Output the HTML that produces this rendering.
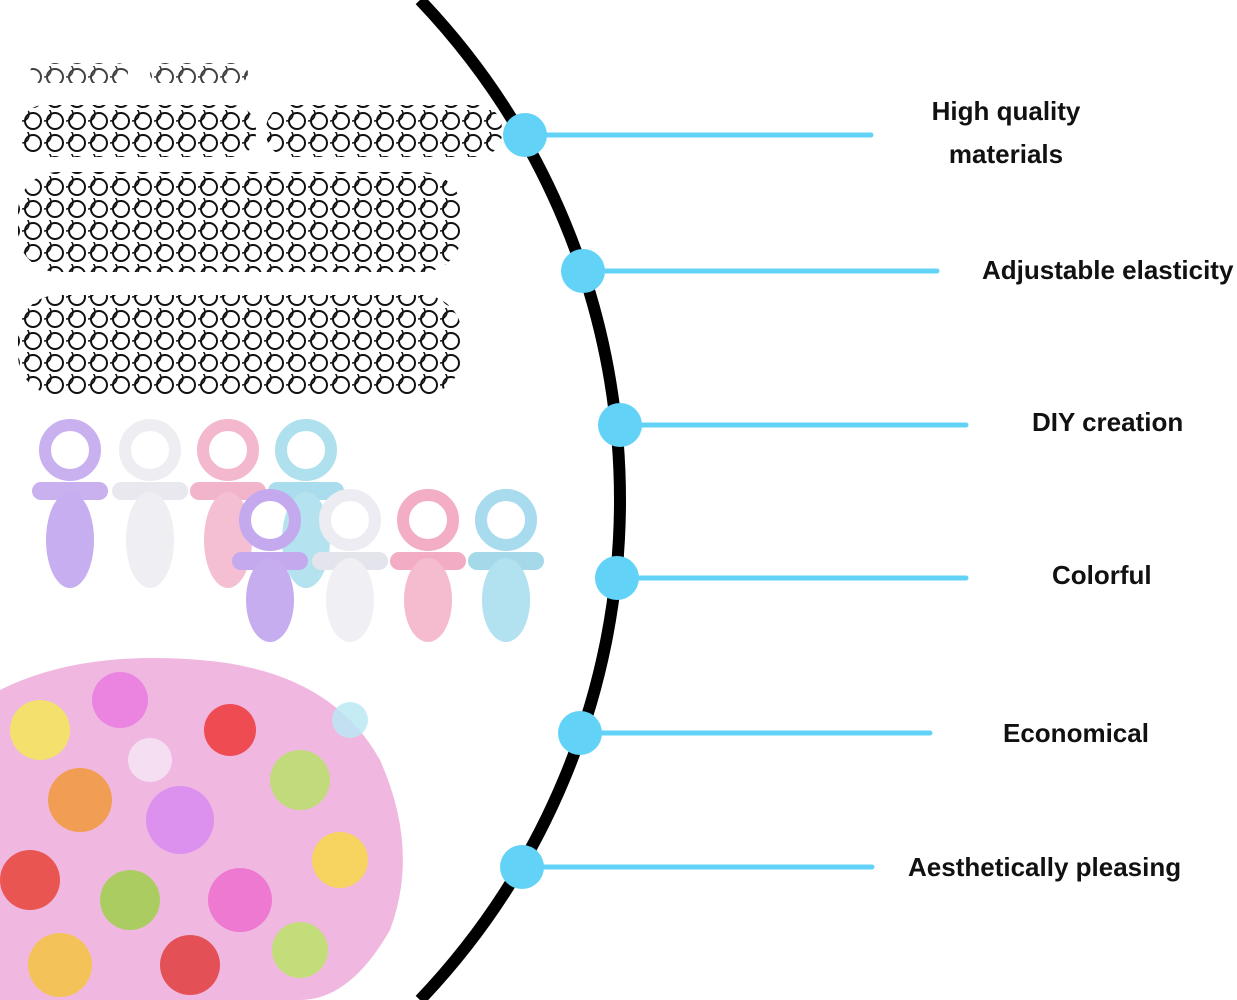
<!DOCTYPE html>
<html><head><meta charset="utf-8"><style>
html,body{margin:0;padding:0;background:#fff;width:1237px;height:1000px;overflow:hidden;}
body{position:relative;font-family:"Liberation Sans",sans-serif;}
svg{display:block;overflow:hidden;}
.t{position:absolute;font-weight:bold;font-size:26px;color:#111;text-align:center;line-height:43px;white-space:nowrap;}
</style></head><body>
<svg width="1237" height="1000" style="position:absolute;left:0;top:0">
<defs>
<pattern id="lace" width="22" height="22" patternUnits="userSpaceOnUse">
<circle cx="11" cy="11" r="8" fill="none" stroke="#111" stroke-width="2"/>
<circle cx="0" cy="4" r="7" fill="none" stroke="#111" stroke-width="1.5"/>
</pattern>
</defs>
<rect x="30" y="63" width="98" height="20" rx="10" fill="url(#lace)" opacity=".8"/>
<rect x="150" y="63" width="98" height="20" rx="10" fill="url(#lace)" opacity=".8"/>
<rect x="20" y="105" width="236" height="52" rx="24" fill="url(#lace)"/>
<rect x="266" y="105" width="236" height="52" rx="24" fill="url(#lace)"/>
<rect x="18" y="172" width="444" height="100" rx="40" fill="url(#lace)"/>
<rect x="18" y="295" width="444" height="100" rx="40" fill="url(#lace)"/>
<g>
<g transform="translate(70,420)"><circle cx="0" cy="30" r="25" fill="none" stroke="#c9b0ef" stroke-width="12"/><rect x="-38" y="62" width="76" height="18" rx="9" fill="#c9b0ef"/><ellipse cx="0" cy="120" rx="24" ry="48" fill="#c7aef0"/></g>
<g transform="translate(150,420)"><circle cx="0" cy="30" r="25" fill="none" stroke="#eeeef2" stroke-width="12"/><rect x="-38" y="62" width="76" height="18" rx="9" fill="#e8e8ee"/><ellipse cx="0" cy="120" rx="24" ry="48" fill="#eeeef3"/></g>
<g transform="translate(228,420)"><circle cx="0" cy="30" r="25" fill="none" stroke="#f3b8cd" stroke-width="12"/><rect x="-38" y="62" width="76" height="18" rx="9" fill="#f2b4ca"/><ellipse cx="0" cy="120" rx="24" ry="48" fill="#f4bfd2"/></g>
<g transform="translate(306,420)"><circle cx="0" cy="30" r="25" fill="none" stroke="#aee0ee" stroke-width="12"/><rect x="-38" y="62" width="76" height="18" rx="9" fill="#a9dcec"/><ellipse cx="0" cy="120" rx="24" ry="48" fill="#b5e2ef"/></g>
<g transform="translate(270,490)"><circle cx="0" cy="30" r="25" fill="none" stroke="#c4a9ee" stroke-width="12"/><rect x="-38" y="62" width="76" height="18" rx="9" fill="#c4a9ee"/><ellipse cx="0" cy="110" rx="24" ry="42" fill="#c6adef"/></g>
<g transform="translate(350,490)"><circle cx="0" cy="30" r="25" fill="none" stroke="#ececf2" stroke-width="12"/><rect x="-38" y="62" width="76" height="18" rx="9" fill="#e4e4ec"/><ellipse cx="0" cy="110" rx="24" ry="42" fill="#efeff4"/></g>
<g transform="translate(428,490)"><circle cx="0" cy="30" r="25" fill="none" stroke="#f3aec6" stroke-width="12"/><rect x="-38" y="62" width="76" height="18" rx="9" fill="#f2adc5"/><ellipse cx="0" cy="110" rx="24" ry="42" fill="#f5bcd0"/></g>
<g transform="translate(506,490)"><circle cx="0" cy="30" r="25" fill="none" stroke="#a7dbed" stroke-width="12"/><rect x="-38" y="62" width="76" height="18" rx="9" fill="#a5d9ea"/><ellipse cx="0" cy="110" rx="24" ry="42" fill="#b2e1f0"/></g>
</g>
<path d="M0,690 Q80,650 200,660 Q330,670 380,760 Q420,850 390,930 Q350,1000 300,1000 L0,1000 Z" fill="#f0b8e0"/>
<g opacity=".85">
<circle cx="40" cy="730" r="30" fill="#f5e85a"/><circle cx="120" cy="700" r="28" fill="#e97be0"/>
<circle cx="230" cy="730" r="26" fill="#ee3a3a"/><circle cx="300" cy="780" r="30" fill="#b9e06a"/>
<circle cx="80" cy="800" r="32" fill="#f29a3c"/><circle cx="180" cy="820" r="34" fill="#d88bf0"/>
<circle cx="340" cy="860" r="28" fill="#f9d94a"/><circle cx="30" cy="880" r="30" fill="#e8453a"/>
<circle cx="130" cy="900" r="30" fill="#a0d04c"/><circle cx="240" cy="900" r="32" fill="#ee6fcf"/>
<circle cx="60" cy="965" r="32" fill="#f4c542"/><circle cx="190" cy="965" r="30" fill="#e14040"/>
<circle cx="300" cy="950" r="28" fill="#bde46a"/><circle cx="150" cy="760" r="22" fill="#f7e5f5"/>
<circle cx="350" cy="720" r="18" fill="#bbe8f4"/>
</g>
<path d="M420,0 A725,725 0 0 1 420,1000" fill="none" stroke="#000" stroke-width="12"/>
<g stroke="#62d3f7" stroke-width="5" stroke-linecap="round">
<line x1="525" y1="135" x2="871" y2="135"/>
<line x1="582" y1="271" x2="937" y2="271"/>
<line x1="619" y1="425" x2="966" y2="425"/>
<line x1="617" y1="578" x2="966" y2="578"/>
<line x1="580" y1="733" x2="930" y2="733"/>
<line x1="522" y1="867" x2="872" y2="867"/>
</g>
<g fill="#62d3f7">
<circle cx="525" cy="135" r="22"/><circle cx="583" cy="271" r="22"/>
<circle cx="620" cy="425" r="22"/><circle cx="617" cy="578" r="22"/>
<circle cx="580" cy="733" r="22"/><circle cx="522" cy="867" r="22"/>
</g>
</svg>
<div class="t" style="left:906px;top:90px;width:200px">High quality<br>materials</div>
<div class="t" style="left:982px;top:249px">Adjustable elasticity</div>
<div class="t" style="left:1032px;top:401px">DIY creation</div>
<div class="t" style="left:1052px;top:554px">Colorful</div>
<div class="t" style="left:1003px;top:712px">Economical</div>
<div class="t" style="left:908px;top:846px">Aesthetically pleasing</div>
</body></html>
